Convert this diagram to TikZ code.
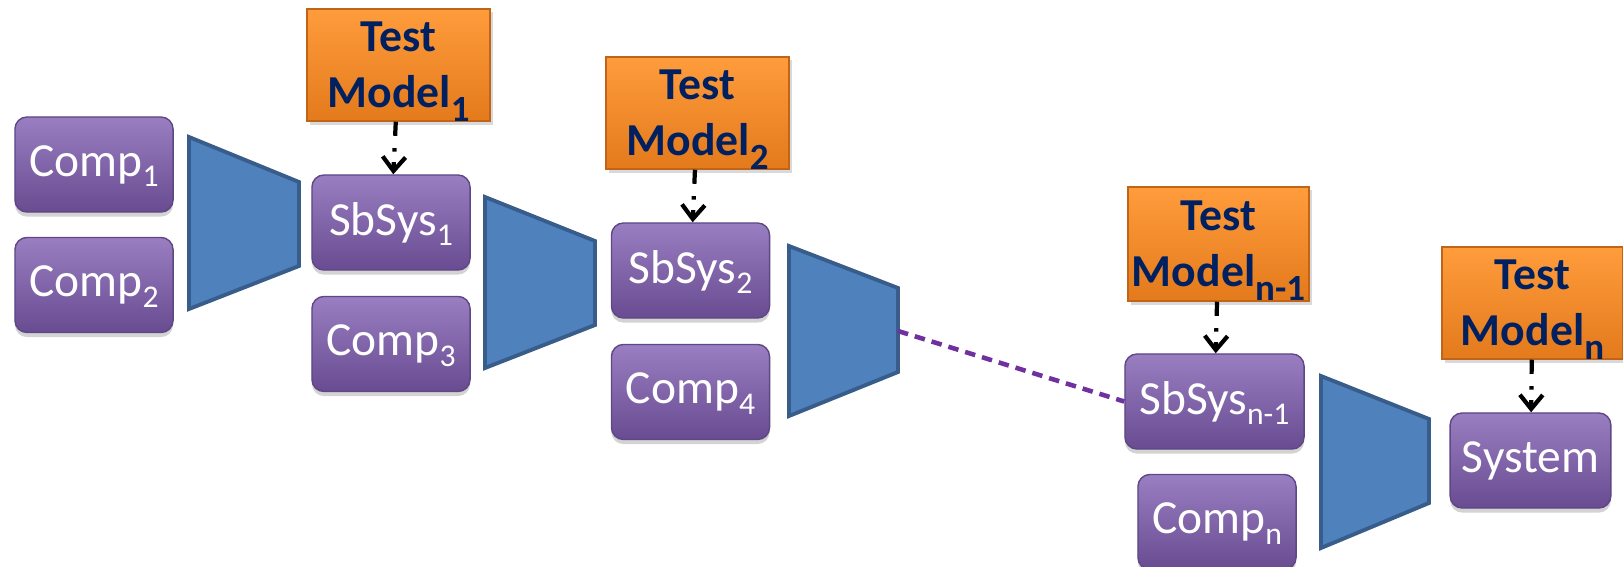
\documentclass[tikz,border=0pt]{standalone}
\usepackage{fontspec}
\setmainfont{Carlito}
\usepackage{tikz}
\usetikzlibrary{positioning}
\usetikzlibrary{shadows}
\usetikzlibrary{arrows.meta}

\definecolor{purpletop}{HTML}{9A7EC2}
\definecolor{purplemid}{HTML}{7F61A8}
\definecolor{purplebot}{HTML}{684B90}
\definecolor{purpleline}{HTML}{5E4785}
\definecolor{orangetop}{HTML}{FF9C3C}
\definecolor{orangebot}{HTML}{E37A1C}
\definecolor{orangeline}{HTML}{BF6418}
\definecolor{navytext}{HTML}{002060}
\definecolor{funnelblue}{HTML}{4F81BD}
\definecolor{funnelline}{HTML}{385D8A}
\definecolor{linkpurple}{HTML}{7030A0}

% lowered subscripts as in the slide
\newcommand{\lowsub}[1]{\raisebox{-0.22em}[\height][0pt]{\fontsize{9}{10}\selectfont #1}}
\newcommand{\lowsubb}[1]{\raisebox{-0.3em}[\height][0pt]{\fontsize{10.5}{11}\selectfont #1}}

\tikzset{
  comp/.style={rounded corners=0.12cm, minimum width=1.58cm, minimum height=0.95cm,
    top color=purpletop, middle color=purplemid, bottom color=purplebot, draw=purpleline,
    text=white, font=\fontsize{13.5}{16}\selectfont,
    drop shadow={opacity=0.35, shadow xshift=0pt, shadow yshift=-1.3pt}},
  testbox/.style={minimum width=1.83cm, minimum height=1.12cm, inner sep=0pt,
    top color=orangetop, bottom color=orangebot, draw=orangeline,
    text=navytext, align=center, font=\bfseries\fontsize{13}{16}\selectfont,
    drop shadow={opacity=0.3, shadow xshift=0.8pt, shadow yshift=-1pt}},
  funnel/.style={fill=funnelblue, draw=funnelline, line width=1.1pt},
  probe/.style={-{Straight Barb[length=4pt,width=6.5pt]}, line width=1.2pt,
    dash pattern=on 4pt off 3.5pt on 1pt off 3pt},
  link/.style={linkpurple, line width=1.3pt, dash pattern=on 3pt off 2pt},
}

\begin{document}
\begin{tikzpicture}[x=0.01cm, y=-0.01cm]
  \useasboundingbox (0,0) rectangle (1623,566);

  % funnels
  \draw[funnel] (189,137) -- (299,182) -- (299,266) -- (189,309) -- cycle;
  \draw[funnel] (485,197) -- (595,241) -- (595,325) -- (485,368) -- cycle;
  \draw[funnel] (789,246) -- (898,288) -- (898,372) -- (789,416) -- cycle;
  \draw[funnel] (1321,376) -- (1429,419) -- (1429,503) -- (1321,548) -- cycle;
  \coordinate (out3) at (898,331);

  % components and subsystems
  \node[comp] (C1) at (94,164.5) {Comp\lowsub{1}};
  \node[comp, below=0.24cm of C1] (C2) {Comp\lowsub{2}};
  \node[comp] (S1) at (391,222.5) {SbSys\lowsub{1}};
  \node[comp, below=0.25cm of S1] (C3) {Comp\lowsub{3}};
  \node[comp] (S2) at (690.5,270.5) {SbSys\lowsub{2}};
  \node[comp, below=0.25cm of S2] (C4) {Comp\lowsub{4}};
  \node[comp, minimum width=1.79cm] (Sn1) at (1214.5,401.5) {SbSys\lowsub{n-1}};
  \node[comp, below=0.24cm of Sn1, xshift=0.025cm] (Cn) {Comp\lowsub{n}};
  \node[comp, minimum width=1.57cm] (Sys) at (1530.5,460.5) {System};

  % test models
  \node[testbox] (T1) at (398.5,65) {Test\\Model\lowsubb{1}};
  \node[testbox] (T2) at (697.5,113) {Test\\Model\lowsubb{2}};
  \node[testbox, minimum width=1.81cm, minimum height=1.14cm] (Tn1) at (1218.5,244) {Test\\Model\lowsubb{n-1}};
  \node[testbox, minimum width=1.81cm] (Tn) at (1532.5,303) {Test\\Model\lowsubb{n}};

  \draw[probe] (T1) -- (S1);
  \draw[probe] (T2) -- (S2);
  \draw[probe] (Tn1) -- (Sn1);
  \draw[probe] (Tn) -- (Sys);

  \draw[link] (out3) -- (Sn1.west);
\end{tikzpicture}
\end{document}
